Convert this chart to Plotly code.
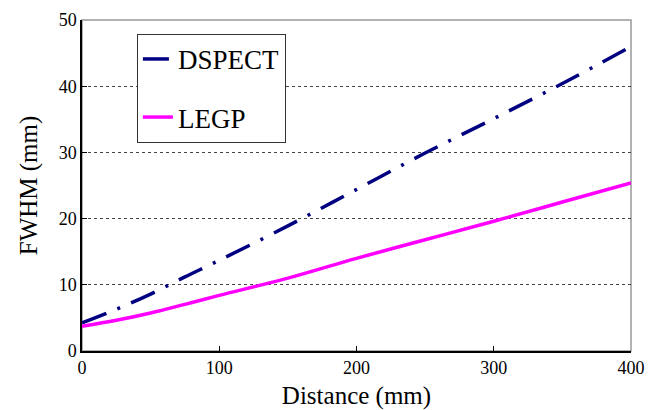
import plotly.graph_objects as go

distance = [0, 25, 50, 75, 100, 150, 200, 250, 300, 350, 400]
dspect = [4.25, 6.3, 8.6, 11.2, 13.7, 18.9, 24.4, 29.9, 35.1, 40.4, 46.0]
legp = [3.75, 4.65, 5.75, 7.05, 8.4, 11.0, 14.0, 16.8, 19.6, 22.5, 25.4]

x_ticks = [0, 100, 200, 300, 400]
y_ticks = [0, 10, 20, 30, 40, 50]

FONT = "Liberation Serif"

fig = go.Figure()
fig.add_trace(go.Scatter(x=distance, y=dspect, mode="lines", name="DSPECT",
                         legendgroup="a",
                         line=dict(color="#000080", width=3.5, shape="spline",
                                   dash="26px,12px,3px,12px")))
fig.add_trace(go.Scatter(x=distance, y=legp, mode="lines", name="LEGP",
                         legendgroup="b",
                         line=dict(color="#FF00FF", width=3.5, shape="spline")))

fig.update_layout(
    width=648, height=402, autosize=False,
    margin=dict(l=74, r=25, t=12, b=59, pad=0),
    paper_bgcolor="white", plot_bgcolor="white",
    font=dict(family=FONT, color="black", size=18),
    showlegend=True,
    legend=dict(x=0.1, y=0.958, xanchor="left", yanchor="top",
                bordercolor="#333333", borderwidth=1, bgcolor="white",
                font=dict(family=FONT, size=27, color="black"), tracegroupgap=20,
                traceorder="grouped", entrywidth=125, entrywidthmode="pixels"),
    shapes=[dict(type="rect", xref="paper", yref="paper", x0=0, x1=1, y0=0, y1=1,
                 line=dict(color="#999999", width=1.5), layer="below")],
)
fig.update_xaxes(range=[0, 400], tickvals=x_ticks, ticks="inside", ticklen=5,
                 tickcolor="black", showline=True, linecolor="black", linewidth=1.5,
                 tickfont=dict(family=FONT, size=18, color="black"),
                 showgrid=False, zeroline=False, automargin=False,
                 title=dict(text="Distance (mm)", font=dict(size=25, family=FONT, color="black"), standoff=10))
fig.update_yaxes(range=[0, 50], tickvals=y_ticks, ticks="inside", ticklen=5,
                 tickcolor="black", showline=True, linecolor="black", linewidth=1.5,
                 tickfont=dict(family=FONT, size=18, color="black"),
                 showgrid=True, gridcolor="#444444", gridwidth=1, griddash="dot",
                 zeroline=False, automargin=False,
                 title=dict(text="FWHM (mm)", font=dict(size=25, family=FONT, color="black"), standoff=14))

fig.write_html("out.html")
